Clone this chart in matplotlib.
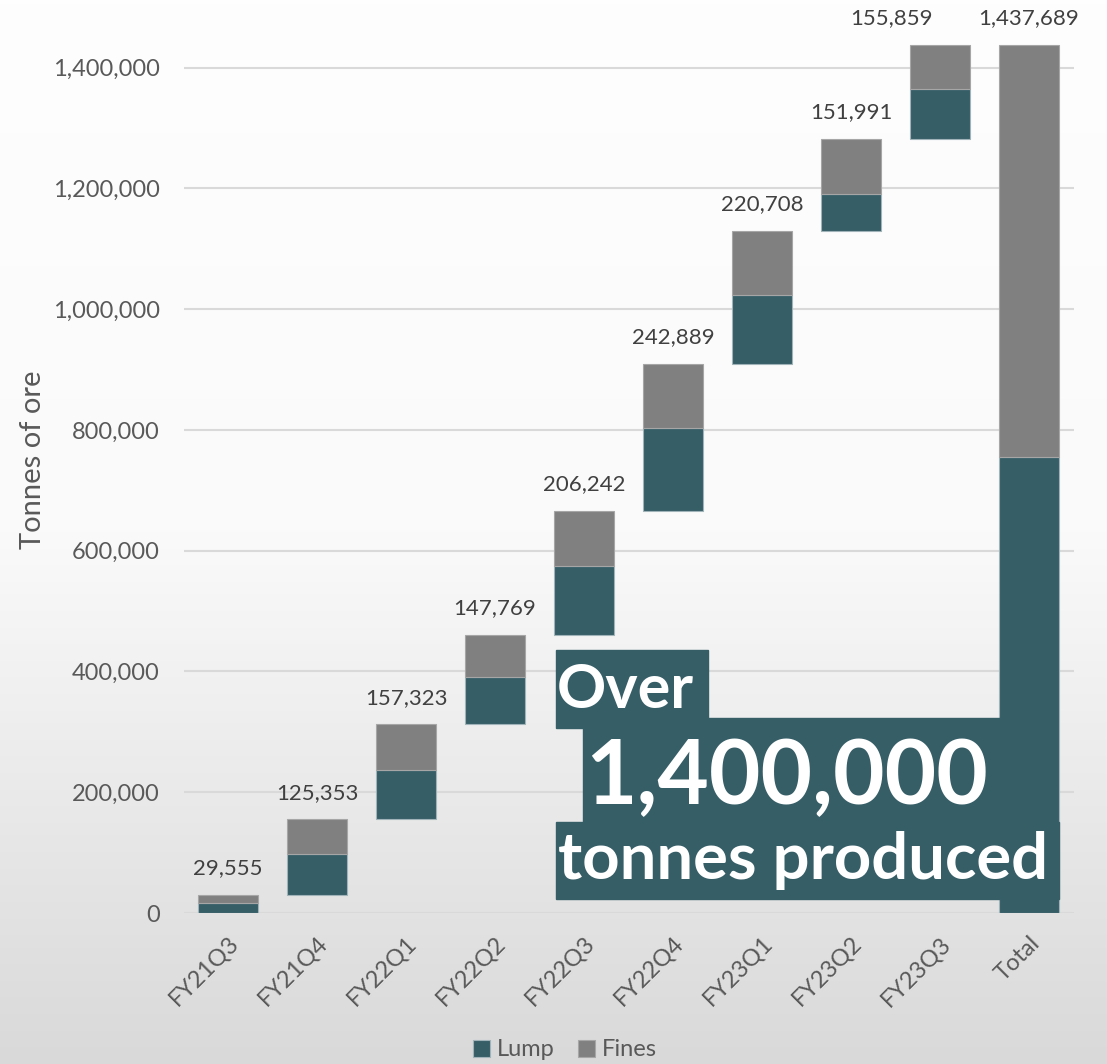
import numpy as np
import matplotlib.pyplot as plt
from matplotlib.colors import LinearSegmentedColormap
from matplotlib.patches import Rectangle

# quarterly production (tonnes)
quarters = ['FY21Q3', 'FY21Q4', 'FY22Q1', 'FY22Q2', 'FY22Q3',
            'FY22Q4', 'FY23Q1', 'FY23Q2', 'FY23Q3']
totals = [29555, 125353, 157323, 147769, 206242, 242889, 220708, 151991, 155859]
lump = [16000, 67800, 81800, 78000, 114400, 137100, 114900, 61400, 83400]
fines = [t - l for t, l in zip(totals, lump)]

categories = quarters + ['Total']
grand_total = sum(totals)

teal = '#365e67'
grey = '#808080'
txt = '#595959'

W, H = 1107, 1064
fig = plt.figure(figsize=(W / 100, H / 100), dpi=100)

# background gradient
bg = fig.add_axes([0, 0, 1, 1], zorder=-10)
grad = np.linspace(0, 1, 256).reshape(-1, 1)
cmap = LinearSegmentedColormap.from_list('g', ['#fefefe', '#fafafa', '#d9d9d9'])
bg.imshow(grad, aspect='auto', cmap=cmap, extent=[0, 1, 0, 1])
bg.axis('off')

ax = fig.add_axes([183.5 / W, 1 - 913 / H, 890 / W, 913 / H])
ax.patch.set_alpha(0)

x = np.arange(len(categories))
bases = np.concatenate([[0], np.cumsum(totals)[:-1], [0]])
lump_all = lump + [sum(lump)]
fines_all = fines + [sum(fines)]

w = 0.67
ax.bar(x, lump_all, w, bottom=bases, color=teal, edgecolor='#9fb3b8', linewidth=0.8,
       label='Lump', zorder=3)
ax.bar(x, fines_all, w, bottom=bases + np.array(lump_all), color=grey,
       edgecolor='#a6a6a6', linewidth=0.8, label='Fines', zorder=3)

labels = totals + [grand_total]
tops = bases + np.array(lump_all) + np.array(fines_all)
for i, (xi, top, v) in enumerate(zip(x, tops, labels)):
    dx = -35 if i == len(quarters) - 1 else 0  # last quarter label nudged left in the original
    ax.annotate(f'{v:,}', (xi, top), xytext=(dx, 12), textcoords='offset points',
                ha='center', va='bottom', fontsize=16, color='#404040', family='Lato')

ax.set_xlim(-0.5, len(categories) - 0.5)
ax.set_ylim(0, 1512000)
ax.set_yticks(np.arange(0, 1400001, 200000))
ax.set_yticklabels([f'{v:,}' for v in range(0, 1400001, 200000)])
ax.set_xticks(x)
ax.set_xticklabels(categories, rotation=45, ha='right', va='top', rotation_mode='anchor')
ax.tick_params(axis='both', length=0, labelsize=17, labelcolor=txt)
ax.tick_params(axis='y', pad=17)
ax.tick_params(axis='x', pad=14)
for lab in ax.get_xticklabels() + ax.get_yticklabels():
    lab.set_family('Lato')
ax.grid(axis='y', color='#d9d9d9', linewidth=1.5, zorder=0)
ax.set_axisbelow(True)
for s in ax.spines.values():
    s.set_visible(False)

fig.text(33 / W, 1 - 460 / H, 'Tonnes of ore', rotation=90, ha='center', va='center',
         fontsize=21, color=txt, family='Lato')

fig.legend(loc='center', bbox_to_anchor=(565 / W, 1 - 1050 / H), ncol=2, frameon=False,
           handlelength=0.7, handleheight=0.7, handletextpad=0.3,
           columnspacing=1.0, labelcolor=txt, prop={'family': 'Lato', 'size': 17})

# callout boxes
def box(x0, y0, x1, y1):
    fig.add_artist(Rectangle((x0 / W, 1 - y1 / H), (x1 - x0) / W, (y1 - y0) / H,
                             transform=fig.transFigure, color=teal, zorder=5))

box(556, 650, 708, 728)
box(583, 718, 1023, 822)
box(556, 822, 1059, 899)
bold = dict(fontweight='bold', color='white', zorder=6, family='Lato')
fig.text(557 / W, 1 - 690 / H, 'Over', ha='left', va='center', fontsize=44, **bold)
fig.text(787 / W, 1 - 778 / H, '1,400,000', ha='center', va='center', fontsize=64, **bold)
fig.text(803 / W, 1 - 860 / H, 'tonnes produced', ha='center', va='center', fontsize=47, **bold)

fig.savefig('out.png', dpi=100)
